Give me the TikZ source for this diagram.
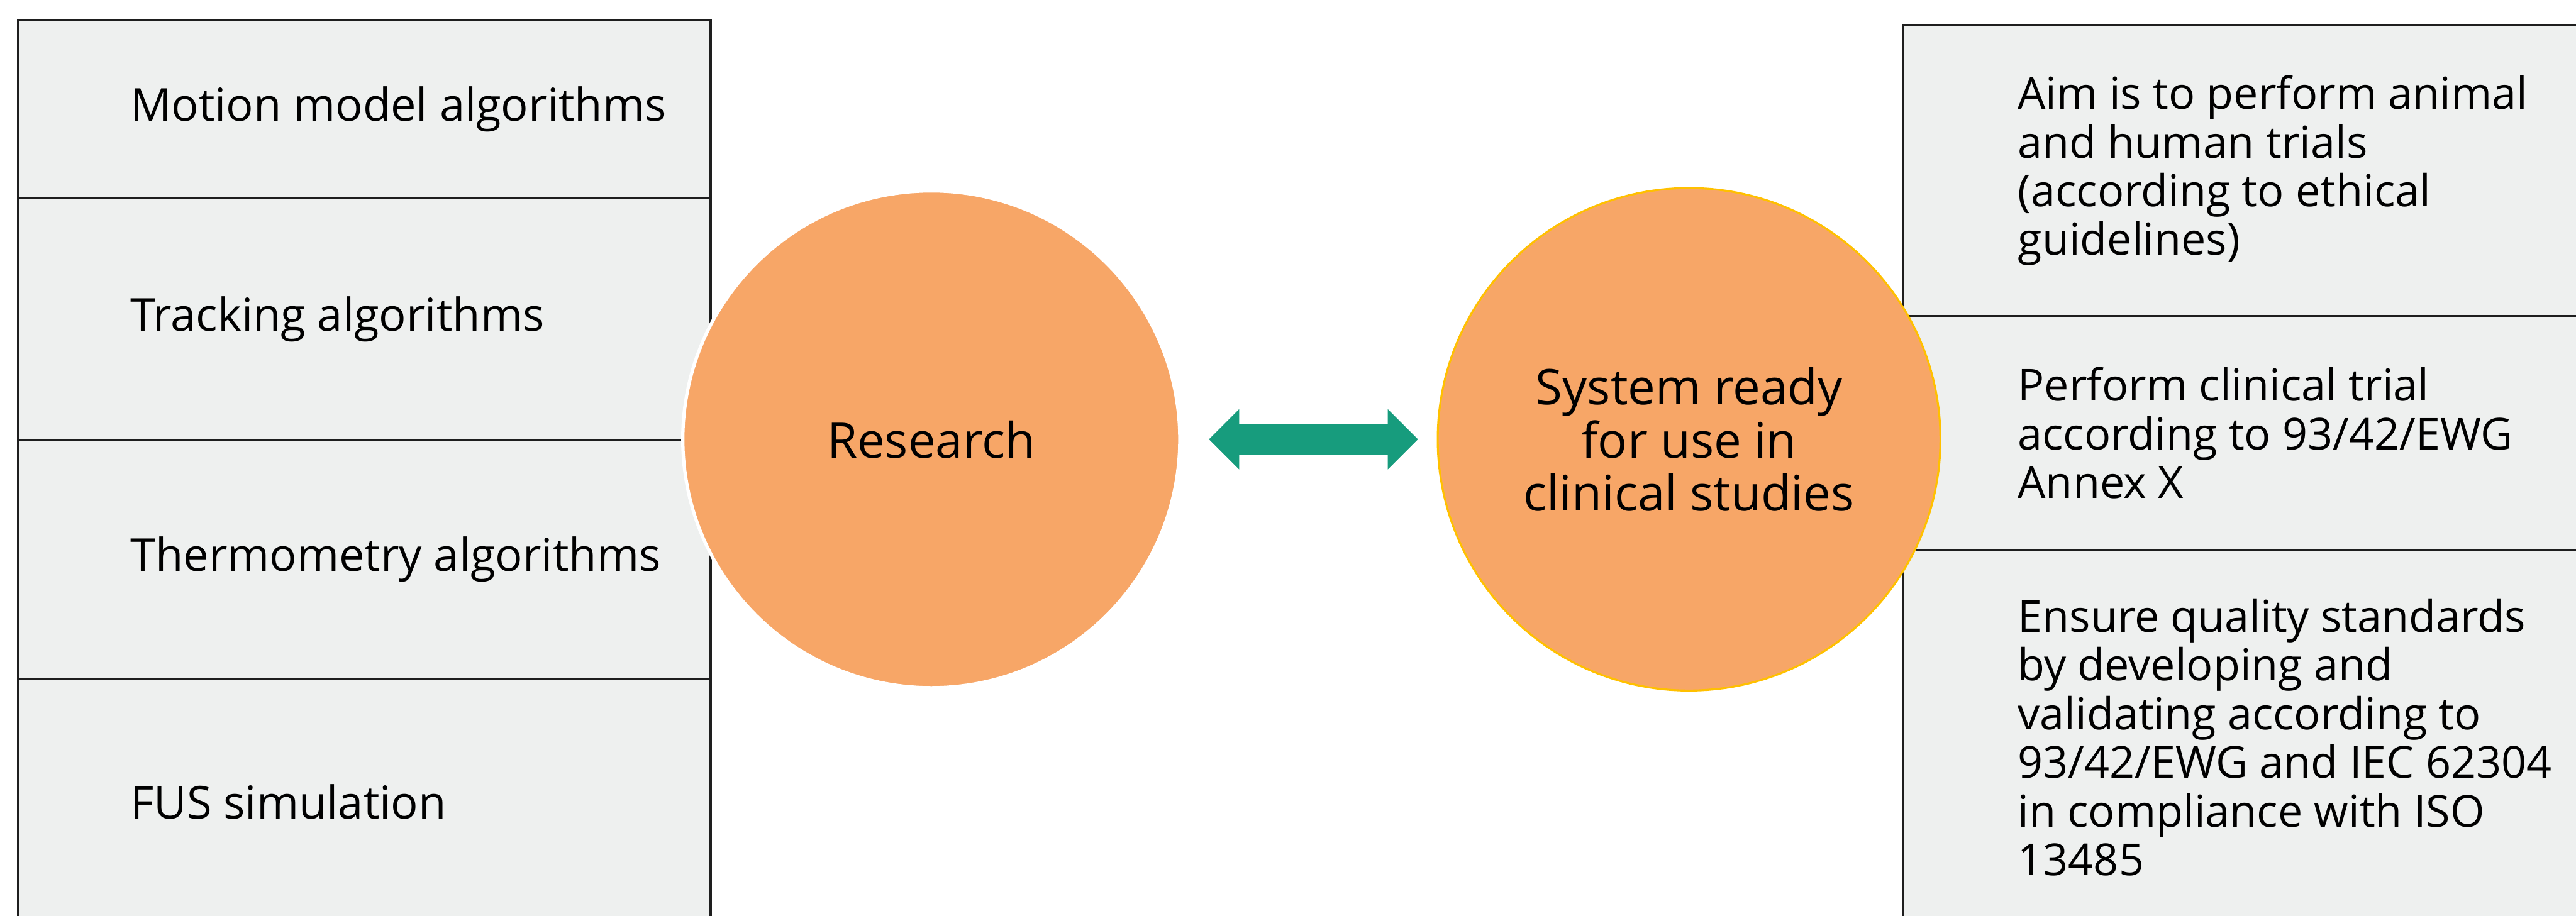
\documentclass[tikz,border=0pt]{standalone}
\usepackage{fontspec}
\setmainfont{Open Sans}
\usetikzlibrary{positioning,arrows.meta}

\definecolor{boxgrey}{HTML}{EEF0EF}
\definecolor{frame}{HTML}{1E1E1E}
\definecolor{peach}{HTML}{F7A667}
\definecolor{gold}{HTML}{FFC000}
\definecolor{fhgreen}{HTML}{179C7D}

\tikzset{
  panel/.style={draw=frame, fill=boxgrey, line width=0.6pt, inner sep=0pt, outer sep=0pt},
  leftpanel/.style={panel, minimum width=7.345cm},
  rightpanel/.style={panel, minimum width=7.6cm},
  paneltext/.style={anchor=west, align=left, inner sep=0pt,
                    font=\fontsize{13.3}{14.7}\selectfont},
  itemtext/.style={paneltext, font=\fontsize{13.7}{15}\selectfont},
  stage/.style={circle, fill=peach, minimum size=#1, inner sep=0pt, outer sep=0pt,
                align=center, font=\fontsize{14.8}{16}\selectfont}
}

\begin{document}
\begin{tikzpicture}
    \tikzset{
      blockhead/.tip={Triangle[width=0.64cm, length=0.32cm, line width=0pt]},
      twoway/.style={fhgreen, line width=0.33cm, blockhead-blockhead}
    }
    \clip (0,0) rectangle (27.315,9.71);

    % left column
    \node[leftpanel, minimum height=1.895cm, anchor=north west] (motion) at (0.19,9.50) {};
    \node[leftpanel, minimum height=2.565cm, below=0pt of motion] (tracking) {};
    \node[leftpanel, minimum height=2.53cm, below=0pt of tracking] (thermo) {};
    \node[leftpanel, minimum height=2.61cm, below=0pt of thermo] (fus) {};

    \node[itemtext] (motiontext) at ([xshift=1.185cm]motion.west) {Motion model algorithms};
    \node[itemtext] (trackingtext) at ([xshift=1.185cm]tracking.west) {Tracking algorithms};
    \node[itemtext] (thermotext) at ([xshift=1.185cm]thermo.west) {Thermometry algorithms};
    \node[itemtext] (fustext) at ([xshift=1.185cm]fus.west) {FUS simulation};

    % right column
    \node[rightpanel, minimum height=3.09cm, anchor=north west] (aim) at (20.185,9.445) {};
    \node[rightpanel, minimum height=2.475cm, below=0pt of aim] (trial) {};
    \node[rightpanel, minimum height=3.98cm, below=0pt of trial] (quality) {};

    \node[paneltext] (aimtext) at ([xshift=1.205cm]aim.west)
      {Aim is to perform animal\\and human trials\\(according to ethical\\guidelines)};
    \node[paneltext] (trialtext) at ([xshift=1.205cm]trial.west)
      {Perform clinical trial\\according to 93/42/EWG\\Annex X};
    \node[paneltext] (qualitytext) at ([xshift=1.205cm]quality.west)
      {Ensure quality standards\\by developing and\\validating according to\\93/42/EWG and IEC 62304\\in compliance with ISO\\13485};

    % the two stages
    \node[stage=5.27cm, draw=white, line width=1pt] (research) at (9.875,5.05) {Research};
    \node[stage=5.33cm, draw=gold, line width=0.6pt] (ready) at (17.91,5.05)
      {System ready\\for use in\\clinical studies};

    \draw[twoway, shorten <=0.31cm, shorten >=0.21cm] (research) -- (ready);
\end{tikzpicture}
\end{document}
